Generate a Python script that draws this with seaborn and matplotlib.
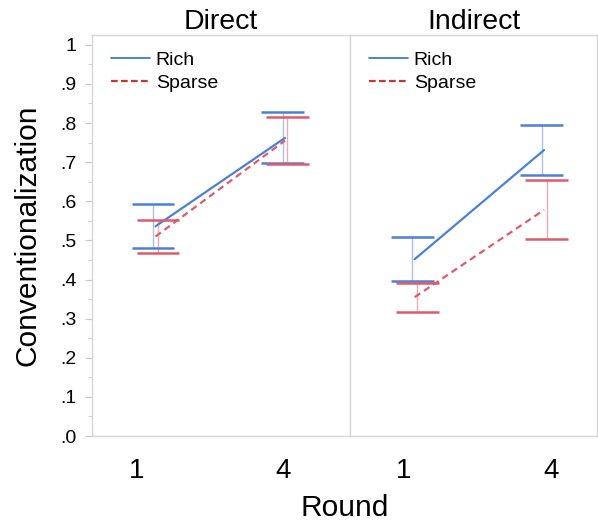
import numpy as np
import pandas as pd
import matplotlib
matplotlib.use("Agg")
import matplotlib.pyplot as plt
from matplotlib.lines import Line2D
from matplotlib.ticker import FixedLocator, FuncFormatter
import seaborn as sns

# values
rounds = [1, 4]
panels = ["Direct", "Indirect"]
cues = ["Rich", "Sparse"]

direct_rich_mean = [0.536, 0.762]
direct_rich_lo = [0.480, 0.697]
direct_rich_hi = [0.593, 0.827]
direct_sparse_mean = [0.510, 0.755]
direct_sparse_lo = [0.469, 0.696]
direct_sparse_hi = [0.551, 0.815]

indirect_rich_mean = [0.452, 0.731]
indirect_rich_lo = [0.397, 0.667]
indirect_rich_hi = [0.508, 0.796]
indirect_sparse_mean = [0.355, 0.578]
indirect_sparse_lo = [0.318, 0.503]
indirect_sparse_hi = [0.392, 0.655]

# drawing offsets (style only)
round_shift = {"Direct": {1: 0.38, 4: 0.04}, "Indirect": {1: 0.22, 4: -0.14}}
cue_dodge = {"Rich": -0.05, "Sparse": 0.05}
xlims = {"Direct": (0.075, 5.377), "Indirect": (-0.10, 4.94)}

colors = {"Rich": "#4a80d8", "Sparse": "#e05a6b"}
stem_colors = {"Rich": "#a9c1e8", "Sparse": "#eeaab3"}

rows = []
series = {
    ("Direct", "Rich"): (direct_rich_mean, direct_rich_lo, direct_rich_hi),
    ("Direct", "Sparse"): (direct_sparse_mean, direct_sparse_lo, direct_sparse_hi),
    ("Indirect", "Rich"): (indirect_rich_mean, indirect_rich_lo, indirect_rich_hi),
    ("Indirect", "Sparse"): (indirect_sparse_mean, indirect_sparse_lo, indirect_sparse_hi),
}
for (panel, cue), (m, lo, hi) in series.items():
    for i, r in enumerate(rounds):
        rows.append({"panel": panel, "cue": cue, "round": r,
                     "mean": m[i], "lo": lo[i], "hi": hi[i]})
df = pd.DataFrame(rows)
df["x"] = [r + round_shift[p][r] for p, r in zip(df["panel"], df["round"])]
df["xe"] = df["x"] + df["cue"].map(cue_dodge)

sns.set_style("white")
plt.rcParams["font.family"] = ["Liberation Sans", "DejaVu Sans"]
plt.rcParams["text.color"] = "black"
plt.rcParams["xtick.color"] = "black"
plt.rcParams["ytick.color"] = "black"

fig = plt.figure(figsize=(5.98, 5.21), dpi=100)
ax1 = fig.add_axes([92 / 598, 0.1631, 258 / 598, 0.7697])
ax2 = fig.add_axes([350 / 598, 0.1631, 247 / 598, 0.7697])

for ax, panel in zip([ax1, ax2], panels):
    sub = df[df["panel"] == panel]
    sns.lineplot(data=sub, x="x", y="mean", hue="cue", style="cue",
                 palette=colors, dashes={"Rich": "", "Sparse": (3, 2)},
                 linewidth=1.6, legend=False, ax=ax)
    for cue in cues:
        c = sub[sub["cue"] == cue]
        ax.vlines(c["xe"], c["lo"], c["hi"], color=stem_colors[cue], lw=1.0, zorder=1)
        for col in ["lo", "hi"]:
            ax.hlines(c[col], c["xe"] - 0.44, c["xe"] + 0.44,
                      color=colors[cue], lw=1.8, zorder=2)

    ax.set_xlim(*xlims[panel])
    ax.set_ylim(0, 1.025)
    ax.set_xticks(rounds)
    ax.set_xticklabels([str(r) for r in rounds])
    ax.tick_params(axis="x", length=0, labelsize=20, pad=16, labelcolor="black")
    ax.set_xlabel("")
    ax.set_ylabel("")
    ax.set_title(panel, fontsize=20.5, pad=4, color="black")
    for s in ax.spines.values():
        s.set_color("#d6d6d6")
        s.set_linewidth(1.0)

    handles = [Line2D([], [], color="#2a6fd2", lw=1.2),
               Line2D([], [], color="#c8352c", lw=1.6, ls=(0, (3, 1.5)))]
    ax.legend(handles, cues, loc="upper left", frameon=False, fontsize=14,
              handlelength=2.0, handletextpad=0.3, labelspacing=0.28,
              borderaxespad=0.45, bbox_to_anchor=(0.01, 1.0))

yt = np.round(np.arange(0, 1.01, 0.1), 1)
ax1.yaxis.set_major_locator(FixedLocator(yt))
ax1.yaxis.set_minor_locator(FixedLocator(np.round(np.arange(0.05, 1.0, 0.1), 2)))
ax1.yaxis.set_major_formatter(FuncFormatter(lambda v, p: "1" if v > 0.99 else f"{v:.1f}".lstrip("0")))
ax1.tick_params(axis="y", which="both", left=True, color="#c8c8c8", labelsize=14,
                pad=6, labelcolor="black")
ax1.tick_params(axis="y", which="major", length=5)
ax1.tick_params(axis="y", which="minor", length=3)
ax2.set_yticks(yt)
ax2.tick_params(axis="y", left=False, labelleft=False)

fig.text(28 / 598, 0.5 * (0.1631 + 0.9328), "Conventionalization", rotation=90,
         fontsize=21.5, ha="center", va="center", color="black")
fig.text(345 / 598, 1 - 508 / 521, "Round", fontsize=21.5, ha="center", va="center",
         color="black")

fig.savefig("out.png", dpi=100)
